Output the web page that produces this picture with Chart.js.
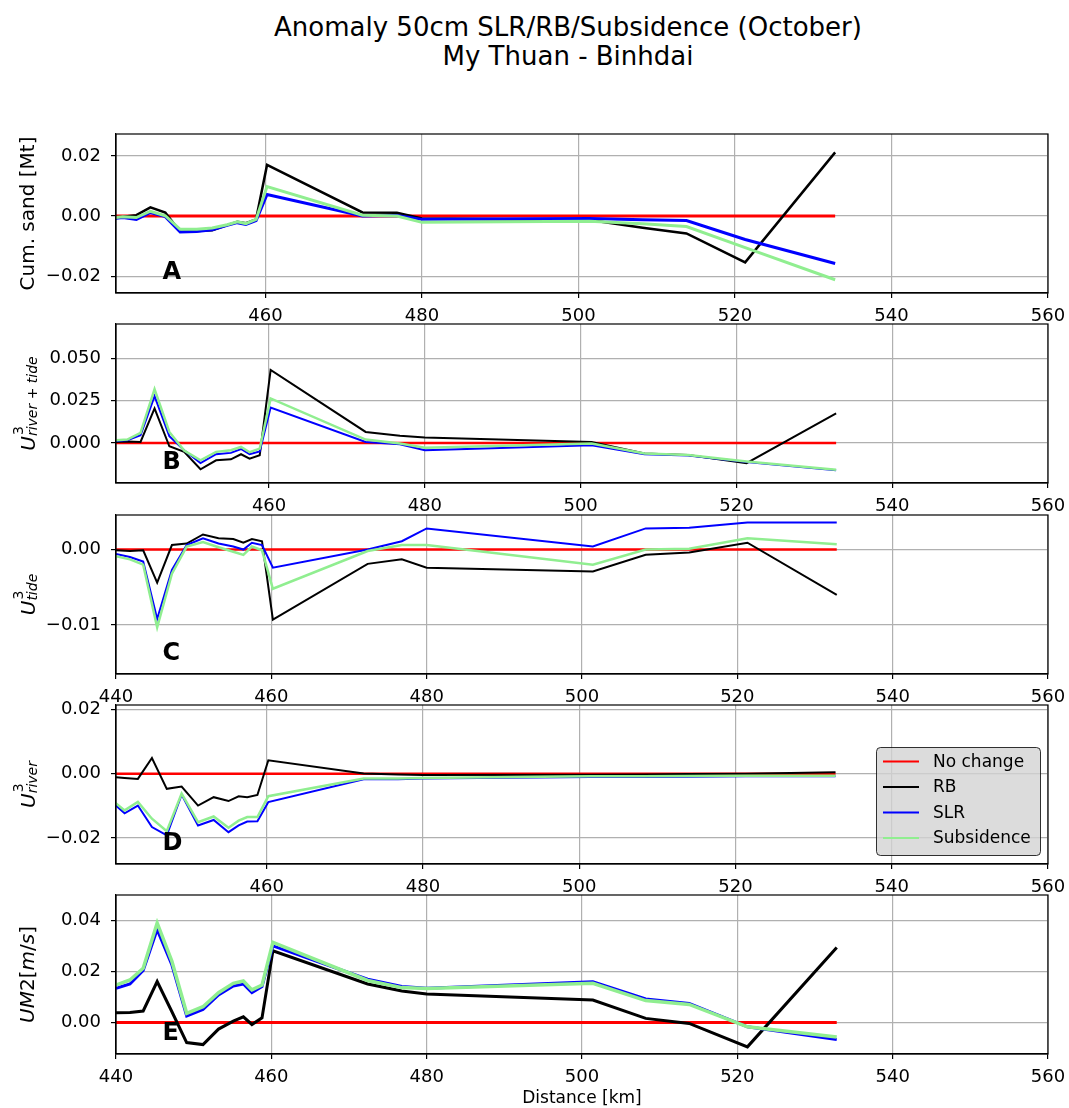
<!DOCTYPE html>
<html>
<head>
<meta charset="utf-8">
<script src="https://cdn.jsdelivr.net/npm/chart.js@4.4.0/dist/chart.umd.min.js"></script>
<style>
    body { margin: 0; background: #fff; width: 1069px; height: 1108px; position: relative; overflow: hidden; font-family: 'DejaVu Sans', sans-serif; }
    canvas { position: absolute; left: 0; }
    #title { position: absolute; left: 268px; width: 600px; top: 13px; text-align: center; font-size: 26px; line-height: 29px; color: #000; }
    #xlabel { position: absolute; left: 482px; width: 200px; top: 1087px; text-align: center; font-size: 17px; color: #000; }
</style>
</head>
<body>
<div id="title">Anomaly 50cm SLR/RB/Subsidence (October)<br>My Thuan - Binhdai</div>
<canvas id="panelA" width="1069" height="209"></canvas>
<canvas id="panelB" width="1069" height="209"></canvas>
<canvas id="panelC" width="1069" height="209"></canvas>
<canvas id="panelD" width="1069" height="209"></canvas>
<canvas id="panelE" width="1069" height="209"></canvas>
<div id="xlabel">Distance [km]</div>
<script>
// ========================================
// DADOS
// ========================================

const distance = [440.0, 441.8, 443.5, 445.3, 447.2, 449.1, 451.2, 453.2, 455.1, 456.4, 457.5, 458.8, 460.2, 472.4, 476.8, 480.0, 501.4, 508.2, 513.8, 521.3, 532.8];
const noChange = [0, 0, 0, 0, 0, 0, 0, 0, 0, 0, 0, 0, 0, 0, 0, 0, 0, 0, 0, 0, 0];

// A - Cum. sand [Mt]
const sandRB  = [-0.0006, -0.0002, 0.0003, 0.0029, 0.0012, -0.0052, -0.0050, -0.0047, -0.0030, -0.0019, -0.0024, -0.0011, 0.0170, 0.0012, 0.0011, -0.0008, -0.0013, -0.0039, -0.0058, -0.0154, 0.0212];
const sandSLR = [-0.0010, -0.0005, -0.0011, 0.0012, -0.0002, -0.0053, -0.0051, -0.0046, -0.0031, -0.0022, -0.0028, -0.0015, 0.0072, 0.0000, 0.0002, -0.0011, -0.0008, -0.0012, -0.0015, -0.0078, -0.0158];
const sandSub = [-0.0008, -0.0002, -0.0005, 0.0016, 0.0001, -0.0044, -0.0044, -0.0040, -0.0029, -0.0019, -0.0025, -0.0011, 0.0098, 0.0003, 0.0000, -0.0021, -0.0017, -0.0026, -0.0035, -0.0105, -0.0212];

// B - U3 river + tide
const riverTideRB  = [0.0005, 0.0008, 0.0006, 0.0204, -0.0020, -0.0053, -0.0156, -0.0103, -0.0097, -0.0067, -0.0093, -0.0073, 0.0431, 0.0065, 0.0042, 0.0032, 0.0006, -0.0063, -0.0071, -0.0120, 0.0174];
const riverTideSLR = [0.0010, 0.0016, 0.0045, 0.0277, 0.0040, -0.0043, -0.0119, -0.0067, -0.0059, -0.0036, -0.0067, -0.0050, 0.0209, 0.0006, -0.0008, -0.0043, -0.0014, -0.0067, -0.0075, -0.0113, -0.0162];
const riverTideSub = [0.0015, 0.0020, 0.0059, 0.0318, 0.0065, -0.0045, -0.0103, -0.0053, -0.0043, -0.0024, -0.0055, -0.0034, 0.0263, 0.0020, -0.0004, -0.0028, -0.0004, -0.0063, -0.0071, -0.0110, -0.0158];

// C - U3 tide
const tideRB  = [-0.0001, -0.0002, -0.0001, -0.0044, 0.0006, 0.0008, 0.0020, 0.0015, 0.0014, 0.0009, 0.0014, 0.0011, -0.0093, -0.0019, -0.0013, -0.0024, -0.0029, -0.0007, -0.0004, 0.0009, -0.0060];
const tideSLR = [-0.0006, -0.0010, -0.0016, -0.0092, -0.0027, 0.0006, 0.0015, 0.0008, 0.0004, 0.0000, 0.0009, 0.0006, -0.0024, 0.0000, 0.0011, 0.0028, 0.0004, 0.0028, 0.0029, 0.0036, 0.0036];
const tideSub = [-0.0009, -0.0013, -0.0020, -0.0103, -0.0032, 0.0004, 0.0010, 0.0003, -0.0003, -0.0007, 0.0004, -0.0001, -0.0052, -0.0002, 0.0006, 0.0006, -0.0020, 0.0000, 0.0001, 0.0015, 0.0007];

// D - U3 river
const riverRB  = [-0.0009, -0.0013, -0.0016, 0.0049, -0.0047, -0.0040, -0.0099, -0.0073, -0.0085, -0.0070, -0.0073, -0.0066, 0.0042, 0.0001, -0.0002, -0.0004, -0.0003, -0.0002, -0.0001, 0.0000, 0.0005];
const riverSLR = [-0.0084, -0.0123, -0.0099, -0.0166, -0.0192, -0.0065, -0.0161, -0.0144, -0.0182, -0.0161, -0.0149, -0.0148, -0.0088, -0.0017, -0.0017, -0.0015, -0.0010, -0.0010, -0.0009, -0.0008, -0.0008];
const riverSub = [-0.0078, -0.0114, -0.0088, -0.0140, -0.0179, -0.0062, -0.0151, -0.0133, -0.0168, -0.0146, -0.0135, -0.0135, -0.0070, -0.0015, -0.0015, -0.0013, -0.0008, -0.0008, -0.0007, -0.0006, -0.0006];

// E - UM2 [m/s]
const um2RB  = [0.0038, 0.0039, 0.0045, 0.0161, 0.0042, -0.0079, -0.0087, -0.0026, 0.0005, 0.0022, -0.0008, 0.0018, 0.0282, 0.0151, 0.0124, 0.0112, 0.0088, 0.0016, -0.0004, -0.0096, 0.0295];
const um2SLR = [0.0134, 0.0151, 0.0204, 0.0365, 0.0226, 0.0025, 0.0051, 0.0108, 0.0143, 0.0151, 0.0117, 0.0141, 0.0301, 0.0170, 0.0141, 0.0134, 0.0160, 0.0092, 0.0075, -0.0017, -0.0067];
const um2Sub = [0.0147, 0.0167, 0.0213, 0.0391, 0.0240, 0.0036, 0.0062, 0.0117, 0.0154, 0.0163, 0.0128, 0.0147, 0.0315, 0.0165, 0.0137, 0.0133, 0.0154, 0.0086, 0.0071, -0.0017, -0.0057];

// Ticks
const xTicks = [440, 460, 480, 500, 520, 540, 560];
const sandTicks = [-0.02, 0, 0.02];
const riverTideTicks = [0, 0.025, 0.05];
const tideTicks = [-0.01, 0];
const riverTicks = [-0.02, 0, 0.02];
const um2Ticks = [0, 0.02, 0.04];

const seriesLabels = ['No change', 'RB', 'SLR', 'Subsidence'];
const seriesColors = ['#ff0000', '#000000', '#0000ff', '#90ee90'];

// ========================================
// PAINEIS
// ========================================

const FONT = "'DejaVu Sans'";

const panels = [
    { id: 'panelA', top: 134, letter: 'A', xMin: 440.9, yMin: -0.0256, yMax: 0.0273, yTicks: sandTicks, dec: 2,
      series: [noChange, sandRB, sandSLR, sandSub], widths: [3, 2.5, 3, 3],
      ylabel: { parts: [['Cum. sand [Mt]', 0]] } },
    { id: 'panelB', top: 324, letter: 'B', xMin: 440.35, yMin: -0.0237, yMax: 0.0703, yTicks: riverTideTicks, dec: 3,
      series: [noChange, riverTideRB, riverTideSLR, riverTideSub], widths: [2.5, 2, 2, 2.5],
      ylabel: { base: 'U', sup: '3', sub: [['river', 1], [' + ', 0], ['tide', 1]] } },
    { id: 'panelC', top: 515, letter: 'C', xMin: 440, yMin: -0.0165, yMax: 0.00458, yTicks: tideTicks, dec: 2,
      series: [noChange, tideRB, tideSLR, tideSub], widths: [2.5, 2, 2, 2.5],
      ylabel: { base: 'U', sup: '3', sub: [['tide', 1]] } },
    { id: 'panelD', top: 705, letter: 'D', xMin: 440.7, yMin: -0.0281, yMax: 0.0214, yTicks: riverTicks, dec: 2,
      series: [noChange, riverRB, riverSLR, riverSub], widths: [2.5, 2, 2, 2.5], legend: true,
      ylabel: { base: 'U', sup: '3', sub: [['river', 1]] } },
    { id: 'panelE', top: 895, letter: 'E', xMin: 440, yMin: -0.0124, yMax: 0.0501, yTicks: um2Ticks, dec: 2,
      series: [noChange, um2RB, um2SLR, um2Sub], widths: [3, 3, 3, 3.5],
      ylabel: { parts: [['UM', 1], ['2[', 0], ['m', 1], ['/', 0], ['s', 1], [']', 0]] } }
];

const PAD_TOP = 10;
const AXIS_H = 40;
const AXIS_W = 116;

const fmtTick = (v, dec) => {
    if (Math.abs(v) < 1e-12) return (0).toFixed(dec);
    return v < 0 ? '\u2212' + Math.abs(v).toFixed(dec) : v.toFixed(dec);
};

const fontStr = (size, italic, bold) => `${italic ? 'italic ' : ''}${bold ? 'bold ' : ''}${size}px ${FONT}`;

// Zera o padding que o Chart.js reserva para os rotulos das pontas
const fixScale = (size) => (s) => {
    if (s.isHorizontal()) s.height = size; else s.width = size;
    s.paddingTop = 0;
    s.paddingBottom = 0;
    s.paddingLeft = 0;
    s.paddingRight = 0;
};

// Desenha o rotulo do eixo y (com sobrescrito/subscrito)
const drawYLabel = (ctx, spec, yMid) => {
    const size = 20;
    const items = [];
    let width = 0;
    if (spec.parts) {
        spec.parts.forEach(([t, it]) => {
            ctx.font = fontStr(size, it);
            const m = ctx.measureText(t);
            items.push({ t, font: ctx.font, x: width, dy: 0, desc: m.actualBoundingBoxDescent });
            width += m.width;
        });
    } else {
        ctx.font = fontStr(size, 1);
        const wb = ctx.measureText(spec.base).width;
        items.push({ t: spec.base, font: ctx.font, x: 0, dy: 0, desc: 0 });
        const small = size * 0.7;
        ctx.font = fontStr(small, 0);
        const ws = ctx.measureText(spec.sup).width;
        items.push({ t: spec.sup, font: ctx.font, x: wb + 1, dy: -0.62 * size, desc: 0 });
        let sx = wb;
        spec.sub.forEach(([t, it]) => {
            ctx.font = fontStr(small, it);
            const m = ctx.measureText(t);
            items.push({ t, font: ctx.font, x: sx, dy: 0.08 * size, desc: m.actualBoundingBoxDescent + 0.08 * size });
            sx += m.width;
        });
        width = Math.max(wb + 1 + ws, sx);
    }
    const maxDesc = Math.max(...items.map(i => i.desc), 0);
    const xBase = 37 - maxDesc;
    ctx.save();
    ctx.translate(xBase, yMid);
    ctx.rotate(-Math.PI / 2);
    ctx.fillStyle = '#000';
    ctx.textBaseline = 'alphabetic';
    ctx.textAlign = 'left';
    items.forEach(i => {
        ctx.font = i.font;
        ctx.fillText(i.t, i.x - width / 2, i.dy);
    });
    ctx.restore();
};

// Plugin: moldura, letra do painel, rotulo y e legenda
const panelDecor = {
    id: 'panelDecor',
    afterDraw(chart, args, opts) {
        const { ctx, chartArea } = chart;
        const p = opts.panel;
        ctx.save();
        ctx.strokeStyle = '#000';
        ctx.lineWidth = 1.2;
        ctx.strokeRect(chartArea.left, chartArea.top, chartArea.right - chartArea.left, chartArea.bottom - chartArea.top);

        // letra
        ctx.fillStyle = '#000';
        ctx.font = fontStr(24, 0, 1);
        ctx.textBaseline = 'alphabetic';
        ctx.textAlign = 'left';
        const w = chartArea.right - chartArea.left;
        const h = chartArea.bottom - chartArea.top;
        ctx.fillText(p.letter, chartArea.left + 0.05 * w, chartArea.bottom - 0.085 * h);
        ctx.restore();

        drawYLabel(ctx, p.ylabel, (chartArea.top + chartArea.bottom) / 2);

        if (p.legend) {
            const bx = 876, by = 747 - (p.top - PAD_TOP), bw = 164, bh = 108;
            ctx.save();
            ctx.beginPath();
            ctx.roundRect(bx + 0.5, by + 0.5, bw, bh, 4);
            ctx.fillStyle = 'rgba(211,211,211,0.8)';
            ctx.fill();
            ctx.strokeStyle = 'rgba(0,0,0,0.8)';
            ctx.lineWidth = 1;
            ctx.stroke();
            ctx.font = fontStr(17, 0);
            ctx.textBaseline = 'middle';
            chart.data.datasets.forEach((ds, i) => {
                const y = by + 14.5 + i * 25.5;
                ctx.strokeStyle = ds.borderColor;
                ctx.lineWidth = 2.2;
                ctx.beginPath();
                ctx.moveTo(883, y);
                ctx.lineTo(919, y);
                ctx.stroke();
                ctx.fillStyle = '#000';
                ctx.fillText(ds.label, 933, y + 1);
            });
            ctx.restore();
        }
    }
};

const buildPanel = (p) => {
    const canvas = document.getElementById(p.id);
    canvas.style.top = (p.top - PAD_TOP) + 'px';
    const datasets = p.series.map((values, i) => ({
        label: seriesLabels[i],
        data: distance.map((x, k) => ({ x, y: values[k] })),
        borderColor: seriesColors[i],
        backgroundColor: seriesColors[i],
        borderWidth: p.widths[i],
        pointRadius: 0,
        tension: 0,
        fill: false,
        order: 4 - i
    }));
    return new Chart(canvas, {
        type: 'line',
        data: { datasets },
        options: {
            responsive: false,
            animation: false,
            devicePixelRatio: 1,
            layout: { autoPadding: false, padding: { top: PAD_TOP, right: 21, left: 0, bottom: 0 } },
            plugins: {
                legend: { display: false },
                tooltip: { enabled: false },
                panelDecor: { panel: p }
            },
            scales: {
                x: {
                    type: 'linear',
                    min: p.xMin,
                    max: 560,
                    afterBuildTicks: (s) => { s.ticks = xTicks.filter(v => v >= s.min - 1e-9).map(v => ({ value: v })); },
                    afterFit: fixScale(AXIS_H),
                    ticks: { autoSkip: false, maxRotation: 0, padding: 8, color: '#000', font: { family: FONT, size: 18 }, callback: (v) => String(v) },
                    grid: { color: '#b0b0b0', lineWidth: 1.2, tickLength: 5, tickColor: '#000', tickWidth: 1.2 },
                    border: { display: true, color: '#000', width: 1.2 }
                },
                y: {
                    type: 'linear',
                    min: p.yMin,
                    max: p.yMax,
                    afterBuildTicks: (s) => { s.ticks = p.yTicks.map(v => ({ value: v })); },
                    afterFit: fixScale(AXIS_W),
                    ticks: { padding: 10, color: '#000', font: { family: FONT, size: 18 }, callback: (v) => fmtTick(v, p.dec) },
                    grid: { color: '#b0b0b0', lineWidth: 1.2, tickLength: 5, tickColor: '#000', tickWidth: 1.2 },
                    border: { display: true, color: '#000', width: 1.2 }
                }
            }
        },
        plugins: [panelDecor]
    });
};

const charts = panels.map(buildPanel);
</script>
</body>
</html>
